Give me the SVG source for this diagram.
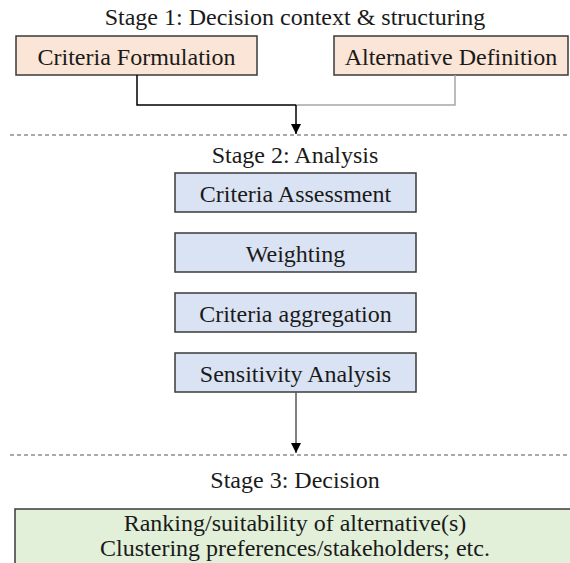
<svg xmlns="http://www.w3.org/2000/svg" width="570" height="563" viewBox="0 0 570 563">
<style>
text{font-family:"Liberation Serif","Times New Roman",serif;font-size:24px;fill:#1a1a1a;text-anchor:middle}
.box{stroke:#3a3a3a;stroke-width:1.5}
.s1{fill:#fbe5d6}
.s2{fill:#dae3f3}
.s3{fill:#e2f0d9}
.dash{stroke:#555;stroke-width:1;stroke-dasharray:4 3;fill:none}
.conn{fill:none;stroke-width:1.5}
</style>
<defs>
<marker id="arr" viewBox="0 0 10 10" refX="10" refY="5" markerWidth="10" markerHeight="10" markerUnits="userSpaceOnUse" orient="auto">
<path d="M0,0 L10,5 L0,10 Z" fill="#000"/>
</marker>
</defs>
<g id="stage-labels">
<text x="295" y="25">Stage 1: Decision context &amp; structuring</text>
<text x="295" y="163">Stage 2: Analysis</text>
<text x="295" y="488">Stage 3: Decision</text>
</g>
<line class="dash" x1="10" y1="135" x2="570" y2="135"/>
<line class="dash" x1="10" y1="455" x2="570" y2="455"/>
<g id="criteria-formulation">
<rect class="box s1" x="16" y="36" width="241" height="39"/>
<text x="136.5" y="65">Criteria Formulation</text>
</g>
<g id="alternative-definition">
<rect class="box s1" x="334" y="36" width="234" height="39"/>
<text x="451" y="65">Alternative Definition</text>
</g>
<g id="criteria-assessment">
<rect class="box s2" x="175" y="173" width="241" height="39"/>
<text x="295.5" y="202">Criteria Assessment</text>
</g>
<g id="weighting">
<rect class="box s2" x="175" y="233" width="241" height="39"/>
<text x="295.5" y="262">Weighting</text>
</g>
<g id="criteria-aggregation">
<rect class="box s2" x="175" y="293" width="241" height="39"/>
<text x="295.5" y="322">Criteria aggregation</text>
</g>
<g id="sensitivity-analysis">
<rect class="box s2" x="175" y="353" width="241" height="39"/>
<text x="295.5" y="382">Sensitivity Analysis</text>
</g>
<g id="decision">
<rect class="box s3" x="15" y="509" width="565" height="70"/>
<text x="295" y="531">Ranking/suitability of alternative(s)</text>
<text x="295" y="556">Clustering preferences/stakeholders; etc.</text>
</g>
<g id="connectors">
<path class="conn" d="M137,75 V105 H296" stroke="#000"/>
<path class="conn" d="M455,75 V105 H296" stroke="#a6a6a6"/>
<path class="conn" d="M296,105 V134" stroke="#000" marker-end="url(#arr)"/>
<path class="conn" d="M296,392 V453" stroke="#595959" marker-end="url(#arr)"/>
</g>
</svg>
